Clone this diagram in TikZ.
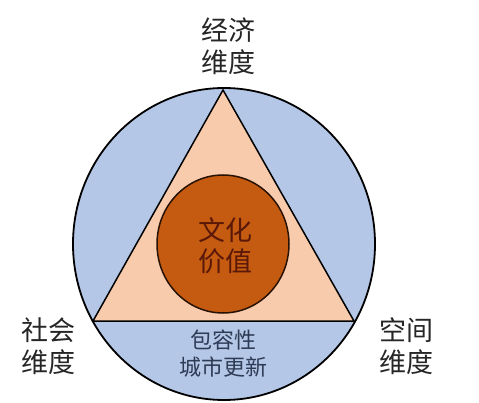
\documentclass[tikz,border=0pt]{standalone}
\usepackage{fontspec}
\newfontfamily\cjk{Noto Sans CJK SC}
\definecolor{ringblue}{HTML}{B4C7E7}
\definecolor{peach}{HTML}{F8CBAD}
\definecolor{rust}{HTML}{C55A11}
\definecolor{darkrust}{HTML}{5A1808}
\definecolor{slate}{HTML}{2E3B55}
\tikzset{
  dimlabel/.style={align=center,text=black!85,font=\cjk\fontsize{27}{32}\selectfont},
  corelabel/.style={align=center,text=darkrust,font=\cjk\fontsize{27}{31}\selectfont},
  baselabel/.style={align=center,text=slate,font=\cjk\fontsize{22}{27}\selectfont}
}
\begin{document}
\begin{tikzpicture}[x=1pt,y=-1pt]
  \useasboundingbox (0,0) rectangle (479,403);
  \filldraw[fill=ringblue,draw=black,line width=1.8pt] (224,244) ellipse [x radius=151,y radius=156];
  \filldraw[fill=peach,draw=black,line width=1.5pt,line join=miter] (223,90)--(93,321)--(354,321)--cycle;
  \filldraw[fill=rust,draw=black!80!rust,line width=1.5pt] (223,244) ellipse [x radius=66,y radius=69];
  \node[dimlabel] (econ) at (228,46) {经济\\维度};
  \node[dimlabel] (social) at (48,346) {社会\\维度};
  \node[dimlabel] (space) at (406,346) {空间\\维度};
  \node[corelabel] (culture) at (225,246) {文化\\价值};
  \node[baselabel] (renewal) at (223,354) {包容性\\城市更新};
\end{tikzpicture}
\end{document}
